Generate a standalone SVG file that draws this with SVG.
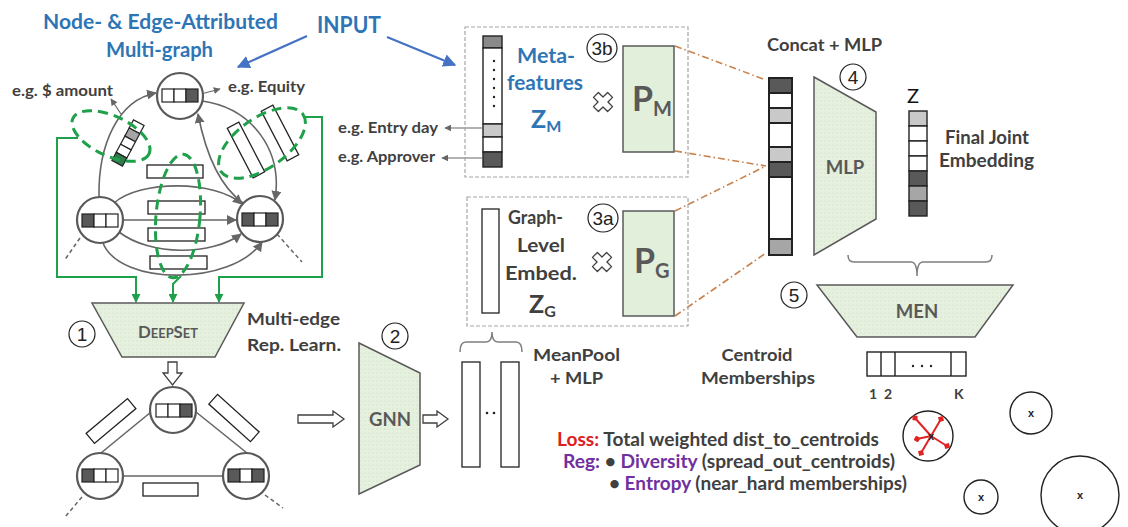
<svg xmlns="http://www.w3.org/2000/svg" width="1128" height="527" viewBox="0 0 1128 527">
<defs>
<style>
text{font-family:Lato,'Liberation Sans',sans-serif}
.b{font-weight:bold}
.g{fill:#404040}
.gm{fill:#595959}
.bl{fill:#2E75B6}
.node{fill:#fff;stroke:#595959;stroke-width:2.2}
.cell{stroke:#222;stroke-width:1.2}
.w{fill:#fff}.dk{fill:#595959}.lg{fill:#c9c9c9}.md{fill:#a6a6a6}.gc{fill:#2E7D4A}.mk{fill:#8a8a8a}
.edge{fill:none;stroke:#666;stroke-width:1.6}
.dl{fill:none;stroke:#666;stroke-width:1.5;stroke-dasharray:4 3}
.ev{fill:#fff;stroke:#222;stroke-width:1.3}
.gd{fill:none;stroke:#1FA04B;stroke-width:3;stroke-dasharray:10 6}
.gl{fill:none;stroke:#1FA04B;stroke-width:2}
.trap{fill:url(#dots);stroke:#595959;stroke-width:1.5}
.num{fill:#fff;stroke:#222;stroke-width:1.2}
.numt{font-family:'Liberation Sans',sans-serif;font-size:19px;fill:#222;text-anchor:middle}
.box{fill:none;stroke:#a6a6a6;stroke-width:1.2;stroke-dasharray:4 2}
.or{fill:none;stroke:#C8824E;stroke-width:1.6;stroke-dasharray:7 3 1.5 3}
.brace{fill:none;stroke:#7f7f7f;stroke-width:1.5}
.hol{fill:#fff;stroke:#404040;stroke-width:1.3}
.pm{fill:#E2EFDA;stroke:#595959;stroke-width:1.5}
.vec{stroke:#222;stroke-width:1.4}
.cv{stroke:#222;stroke-width:2}
.lbl{fill:none;stroke:#666;stroke-width:1.2}
.cen{fill:#fff;stroke:#222;stroke-width:1.4}
.xm{font-family:'Liberation Sans',sans-serif;font-size:11px;font-weight:bold;fill:#222;text-anchor:middle}
</style>
<pattern id="dots" width="4" height="4" patternUnits="userSpaceOnUse"><rect width="4" height="4" fill="#E6F0DE"/><circle cx="1" cy="1" r="0.6" fill="#C8DBB8"/></pattern>
<marker id="ag" viewBox="0 0 10 10" refX="9" refY="5" markerWidth="10" markerHeight="10" markerUnits="userSpaceOnUse" orient="auto"><path d="M0,0 L10,5 L0,10 z" fill="#666"/></marker>
<marker id="as" viewBox="0 0 10 10" refX="9" refY="5" markerWidth="7" markerHeight="7" markerUnits="userSpaceOnUse" orient="auto"><path d="M0,0 L10,5 L0,10 z" fill="#666"/></marker>
<marker id="agr" viewBox="0 0 10 10" refX="9" refY="5" markerWidth="9" markerHeight="9" markerUnits="userSpaceOnUse" orient="auto"><path d="M0,0 L10,5 L0,10 z" fill="#1FA04B"/></marker>
<marker id="ab" viewBox="0 0 10 10" refX="9" refY="5" markerWidth="13" markerHeight="13" markerUnits="userSpaceOnUse" orient="auto"><path d="M0,0 L10,5 L0,10 z" fill="#4472C4"/></marker>
<marker id="rd" viewBox="0 0 10 10" refX="5" refY="5" markerWidth="7" markerHeight="7" markerUnits="userSpaceOnUse" orient="auto"><path d="M0,5 L5,0 L10,5 L5,10 z" fill="#E02424"/></marker>
<path id="xc" d="M-3.5,-10 L3.5,-10 L3.5,-3.5 L10,-3.5 L10,3.5 L3.5,3.5 L3.5,10 L-3.5,10 L-3.5,3.5 L-10,3.5 L-10,-3.5 L-3.5,-3.5 Z" transform="rotate(45)" fill="#fff" stroke="#404040" stroke-width="1.3" stroke-linejoin="round"/>
</defs>
<rect width="1128" height="527" fill="#fff"/>

<g id="titles">
<text x="43" y="29" class="b bl" font-size="21" textLength="235" lengthAdjust="spacingAndGlyphs">Node- &amp; Edge-Attributed</text>
<text x="106" y="57" class="b bl" font-size="21" textLength="107" lengthAdjust="spacingAndGlyphs">Multi-graph</text>
<text x="317" y="33" class="b bl" font-size="23" textLength="64" lengthAdjust="spacingAndGlyphs">INPUT</text>
<text x="12" y="96" class="b g" font-size="15.5" textLength="101" lengthAdjust="spacingAndGlyphs">e.g. $ amount</text>
<text x="228" y="92" class="b g" font-size="15.5" textLength="77" lengthAdjust="spacingAndGlyphs">e.g. Equity</text>
<text x="338" y="133" class="b g" font-size="15.5" textLength="100" lengthAdjust="spacingAndGlyphs">e.g. Entry day</text>
<text x="338" y="162" class="b g" font-size="15.5" textLength="97" lengthAdjust="spacingAndGlyphs">e.g. Approver</text>
<text x="247" y="325" class="b g" font-size="17.5" textLength="93" lengthAdjust="spacingAndGlyphs">Multi-edge</text>
<text x="247" y="351" class="b g" font-size="17.5" textLength="94" lengthAdjust="spacingAndGlyphs">Rep. Learn.</text>
<text x="533" y="361" class="b g" font-size="17.5" textLength="87" lengthAdjust="spacingAndGlyphs">MeanPool</text>
<text x="550" y="384" class="b g" font-size="17.5" textLength="53" lengthAdjust="spacingAndGlyphs">+ MLP</text>
<text x="767" y="51" class="b g" font-size="16.5" textLength="115" lengthAdjust="spacingAndGlyphs">Concat + MLP</text>
<text x="945" y="144" class="b g" font-size="18.5" textLength="84" lengthAdjust="spacingAndGlyphs">Final Joint</text>
<text x="939" y="167" class="b g" font-size="18.5" textLength="95" lengthAdjust="spacingAndGlyphs">Embedding</text>
<text x="757" y="361" class="b g" font-size="17.5" text-anchor="middle" textLength="71" lengthAdjust="spacingAndGlyphs">Centroid</text>
<text x="758" y="384" class="b g" font-size="17.5" text-anchor="middle" textLength="114" lengthAdjust="spacingAndGlyphs">Memberships</text>
<text x="557" y="446" class="b g" font-size="18" textLength="322" lengthAdjust="spacingAndGlyphs"><tspan fill="#E02020">Loss:</tspan> Total weighted dist_to_centroids</text>
<text x="563" y="468" class="b g" font-size="18" textLength="332" lengthAdjust="spacingAndGlyphs"><tspan fill="#7030A0">Reg:</tspan> • <tspan fill="#7030A0">Diversity</tspan> (spread_out_centroids)</text>
<text x="609" y="490" class="b g" font-size="18" textLength="298" lengthAdjust="spacingAndGlyphs">• <tspan fill="#7030A0">Entropy</tspan> (near_hard memberships)</text>
</g>

<g id="connectors">
<path class="edge" d="M99,197 C98,145 118,100 156,93" marker-end="url(#ag)"/>
<path class="edge" d="M202,101 C252,108 283,150 275,200" marker-end="url(#ag)"/>
<path class="edge" d="M243,203 C218,185 205,150 198,114" marker-end="url(#ag)"/>
<path class="edge" d="M114,203 C140,180 215,180 242,204" marker-end="url(#ag)"/>
<path class="edge" d="M123,220 L236,220" marker-end="url(#ag)"/>
<path class="edge" d="M119,232 C150,256 212,256 241,234" marker-end="url(#ag)"/>
<path class="edge" d="M103,243 C120,286 232,286 262,242" marker-end="url(#ag)"/>
<path class="dl" d="M80,238 L64,261"/>
<path class="dl" d="M277,234 L302,262"/>
<path class="lbl" d="M197,95 L220,89" marker-end="url(#as)"/>
<path class="lbl" d="M121,114 L111,99" marker-end="url(#as)"/>
<path class="lbl" d="M482,128 L445,128" marker-end="url(#as)"/>
<path class="lbl" d="M482,158 L442,158" marker-end="url(#as)"/>
<path fill="none" stroke="#4472C4" stroke-width="2.2" d="M307,36 L238,67" marker-end="url(#ab)"/>
<path fill="none" stroke="#4472C4" stroke-width="2.2" d="M387,37 L455,65" marker-end="url(#ab)"/>
<path class="gl" d="M78,138 L57,138 L57,277 L136,277 L136,302" marker-end="url(#agr)"/>
<path class="gl" d="M305,117 L322,117 L322,277 L219,277 L219,302" marker-end="url(#agr)"/>
<path class="gl" d="M181,276 L173,284 L173,302" marker-end="url(#agr)"/>
<path class="edge" d="M151,412 L101,453"/>
<path class="edge" d="M196,412 L247,453"/>
<path class="edge" d="M123,476 L223,476"/>
<path class="dl" d="M82,497 L65,517"/>
<path class="dl" d="M265,495 L283,508"/>
<polygon class="hol" points="168,362 177,362 177,373 182,373 172.5,385 163,373 168,373"/>
<polygon class="hol" points="298,415 333,415 333,411 344,419 333,427 333,423 298,423"/>
<polygon class="hol" points="423,415 437,415 437,411 448,419 437,427 437,423 423,423"/>
<path class="or" d="M675,46 L766,80"/>
<path class="or" d="M675,151 L766,166"/>
<path class="or" d="M675,211 L766,166"/>
<path class="or" d="M675,316 L766,253"/>
<path class="brace" d="M460,352 Q460,342 466,342 L486,342 Q492,342 492,332 Q492,342 498,342 L516,342 Q522,342 522,352"/>
<path class="brace" d="M848,255 Q848,262 854,262 L911,262 Q917,262 917,276 Q917,262 923,262 L986,262 Q992,262 992,255"/>
</g>

<g id="edge-vectors">
<g transform="translate(128,143) rotate(28)">
<rect class="cell w" x="-6" y="-23" width="12" height="9.2"/>
<rect class="cell md" x="-6" y="-13.8" width="12" height="9.2"/>
<rect class="cell w" x="-6" y="-4.6" width="12" height="9.2"/>
<rect class="cell w" x="-6" y="4.6" width="12" height="9.2"/>
<rect class="cell gc" x="-6" y="13.8" width="12" height="9.2"/>
</g>
<rect class="ev" x="-6.5" y="-28" width="13" height="56" transform="translate(246,150) rotate(-27.5)"/>
<rect class="ev" x="-6.5" y="-28" width="13" height="56" transform="translate(280,133) rotate(-27.5)"/>
<rect class="ev" x="147" y="165" width="56" height="13"/>
<rect class="ev" x="148" y="201" width="57" height="13"/>
<rect class="ev" x="148" y="228" width="57" height="13"/>
<rect class="ev" x="150" y="256" width="57" height="13"/>
</g>

<g id="node-top">
<circle class="node" cx="180" cy="96" r="23"/>
<rect class="cell w" x="162" y="89" width="12" height="13"/><rect class="cell w" x="174" y="89" width="12" height="13"/><rect class="cell dk" x="186" y="89" width="12" height="13"/>
</g>
<g id="node-left">
<circle class="node" cx="100" cy="220" r="23"/>
<rect class="cell dk" x="82" y="214" width="12" height="13"/><rect class="cell w" x="94" y="214" width="12" height="13"/><rect class="cell w" x="106" y="214" width="12" height="13"/>
</g>
<g id="node-right">
<circle class="node" cx="260" cy="219" r="23"/>
<rect class="cell dk" x="242" y="213" width="12" height="13"/><rect class="cell w" x="254" y="213" width="12" height="13"/><rect class="cell dk" x="266" y="213" width="12" height="13"/>
</g>

<g id="multi-edge-groups">
<ellipse class="gd" cx="111" cy="136" rx="42" ry="20" transform="rotate(25 111 136)"/>
<ellipse class="gd" cx="178" cy="216" rx="22" ry="62" transform="rotate(5 178 216)"/>
<ellipse class="gd" cx="262" cy="143" rx="50" ry="25" transform="rotate(-35 262 143)"/>
</g>

<g id="deepset">
<polygon class="trap" points="92,303 244,303 215,357 122,357"/>
<text x="168" y="338" text-anchor="middle" class="b gm" textLength="60" lengthAdjust="spacingAndGlyphs"><tspan font-size="17">D</tspan><tspan font-size="13">EEP</tspan><tspan font-size="17">S</tspan><tspan font-size="13">ET</tspan></text>
<circle class="num" cx="82" cy="334" r="13"/><text class="numt" x="82" y="341">1</text>
</g>

<g id="graph2">
<rect class="ev" x="-27" y="-6.5" width="54" height="13" transform="translate(111,421) rotate(-40)"/>
<rect class="ev" x="-28" y="-6.5" width="56" height="13" transform="translate(234,418) rotate(42)"/>
<rect class="ev" x="143" y="483" width="55" height="13"/>
<g id="g2-top"><circle class="node" cx="173" cy="410" r="23"/>
<rect class="cell w" x="156" y="404" width="12" height="13"/><rect class="cell w" x="168" y="404" width="12" height="13"/><rect class="cell dk" x="180" y="404" width="12" height="13"/></g>
<g id="g2-left"><circle class="node" cx="100" cy="476" r="23"/>
<rect class="cell dk" x="82" y="469" width="12" height="13"/><rect class="cell w" x="94" y="469" width="12" height="13"/><rect class="cell w" x="106" y="469" width="12" height="13"/></g>
<g id="g2-right"><circle class="node" cx="246" cy="476" r="23"/>
<rect class="cell dk" x="228" y="469" width="12" height="13"/><rect class="cell w" x="240" y="469" width="12" height="13"/><rect class="cell dk" x="252" y="469" width="12" height="13"/></g>
</g>

<g id="gnn">
<polygon class="trap" points="359,343 420,373 420,465 359,494"/>
<text x="390" y="426" class="b gm" font-size="18.5" text-anchor="middle">GNN</text>
<circle class="num" cx="395" cy="336" r="13"/><text class="numt" x="395" y="343">2</text>
</g>

<g id="node-embeddings">
<rect class="ev" x="462" y="362" width="18" height="105"/>
<rect class="ev" x="501" y="362" width="18" height="105"/>
<circle cx="487" cy="413" r="1.3" fill="#222"/><circle cx="494" cy="413" r="1.3" fill="#222"/>
</g>

<g id="meta-box">
<rect class="box" x="465" y="27" width="223" height="150"/>
<rect class="vec mk" x="483" y="36" width="19" height="12"/>
<rect class="vec w" x="483" y="48" width="19" height="76"/>
<rect class="vec lg" x="483" y="124" width="19" height="13"/>
<rect class="vec w" x="483" y="137" width="19" height="15"/>
<rect class="vec dk" x="483" y="152" width="19" height="15"/>
<g fill="#222"><circle cx="494" cy="61" r="1.2"/><circle cx="494" cy="70" r="1.2"/><circle cx="494" cy="79" r="1.2"/><circle cx="494" cy="88" r="1.2"/><circle cx="494" cy="97" r="1.2"/><circle cx="494" cy="106" r="1.2"/></g>
<text x="517" y="63" class="b bl" font-size="21" textLength="58" lengthAdjust="spacingAndGlyphs">Meta-</text>
<text x="507" y="90" class="b bl" font-size="21" textLength="76" lengthAdjust="spacingAndGlyphs">features</text>
<text x="531" y="128" class="b bl" font-size="25">Z<tspan font-size="16" dy="4">M</tspan></text>
<ellipse class="num" cx="602" cy="48" rx="15" ry="14"/><text class="numt" x="602" y="55">3b</text>
<use href="#xc" x="603" y="102"/>
<rect class="pm" x="623" y="46" width="51" height="106"/>
<text x="632" y="111" class="b gm" font-size="34">P<tspan font-size="20" dy="5">M</tspan></text>
</g>

<g id="graph-box">
<rect class="box" x="467" y="197" width="221" height="129"/>
<rect class="ev" x="482" y="209" width="17" height="104"/>
<text x="508" y="224" class="b g" font-size="19.5" textLength="55" lengthAdjust="spacingAndGlyphs">Graph-</text>
<text x="517" y="252" class="b g" font-size="19.5" textLength="48" lengthAdjust="spacingAndGlyphs">Level</text>
<text x="505" y="280" class="b g" font-size="19.5" textLength="72" lengthAdjust="spacingAndGlyphs">Embed.</text>
<text x="529" y="313" class="b g" font-size="25">Z<tspan font-size="16" dy="4">G</tspan></text>
<ellipse class="num" cx="603" cy="218" rx="15" ry="14"/><text class="numt" x="603" y="225">3a</text>
<use href="#xc" x="602" y="262"/>
<rect class="pm" x="623" y="211" width="51" height="105"/>
<text x="634" y="273" class="b gm" font-size="34">P<tspan font-size="20" dy="5">G</tspan></text>
</g>

<g id="concat">
<rect class="cv dk" x="769" y="78" width="23" height="15"/>
<rect class="cv w" x="769" y="93" width="23" height="15"/>
<rect class="cv lg" x="769" y="108" width="23" height="15"/>
<rect class="cv w" x="769" y="123" width="23" height="24"/>
<rect class="cv lg" x="769" y="147" width="23" height="15"/>
<rect class="cv dk" x="769" y="162" width="23" height="15"/>
<rect class="cv w" x="769" y="177" width="23" height="62"/>
<rect class="cv md" x="769" y="239" width="23" height="16"/>
</g>

<g id="mlp">
<polygon class="trap" points="814,77 876,112 876,219 814,255"/>
<text x="845" y="174" class="b gm" font-size="18.5" text-anchor="middle">MLP</text>
<circle class="num" cx="853" cy="77" r="13"/><text class="numt" x="853" y="84">4</text>
</g>

<g id="z">
<text x="913" y="103" font-family="'Liberation Sans',sans-serif" font-size="20" fill="#111" text-anchor="middle">Z</text>
<rect class="vec lg" x="909" y="111" width="18" height="15"/>
<rect class="vec w" x="909" y="126" width="18" height="15"/>
<rect class="vec w" x="909" y="141" width="18" height="15"/>
<rect class="vec w" x="909" y="156" width="18" height="15"/>
<rect class="vec dk" x="909" y="171" width="18" height="15"/>
<rect class="vec md" x="909" y="186" width="18" height="15"/>
<rect class="vec dk" x="909" y="201" width="18" height="15"/>
</g>

<g id="men">
<polygon class="trap" points="817,285 1013,285 975,337 857,337"/>
<text x="917" y="318" class="b gm" font-size="18.5" text-anchor="middle">MEN</text>
<circle class="num" cx="794" cy="295" r="13"/><text class="numt" x="794" y="302">5</text>
</g>

<g id="memberships">
<rect fill="#fff" stroke="#222" stroke-width="1.4" x="867" y="352" width="99" height="24"/>
<path stroke="#222" stroke-width="1.4" d="M881,352 V376 M895,352 V376 M951,352 V376"/>
<g fill="#222"><circle cx="913" cy="366" r="1.2"/><circle cx="922" cy="366" r="1.2"/><circle cx="931" cy="366" r="1.2"/></g>
<text x="869" y="399" class="b g" font-size="14">1</text>
<text x="884" y="399" class="b g" font-size="14">2</text>
<text x="954" y="399" class="b g" font-size="14">K</text>
</g>

<g id="centroids">
<circle class="cen" cx="928" cy="436" r="25"/>
<g stroke="#E02424" stroke-width="2" fill="none">
<path d="M931,436 L915,418" marker-end="url(#rd)"/>
<path d="M931,436 L941,419" marker-end="url(#rd)"/>
<path d="M931,436 L917,439" marker-end="url(#rd)"/>
<path d="M931,436 L947,446" marker-end="url(#rd)"/>
<path d="M931,436 L921,453" marker-end="url(#rd)"/>
</g>
<text class="xm" x="931" y="440">x</text>
<circle class="cen" cx="1031" cy="413" r="21"/><text class="xm" x="1031" y="417">x</text>
<circle class="cen" cx="981" cy="497" r="17"/><text class="xm" x="981" y="501">x</text>
<circle class="cen" cx="1080" cy="495" r="39"/><text class="xm" x="1080" y="499">x</text>
</g>
</svg>
